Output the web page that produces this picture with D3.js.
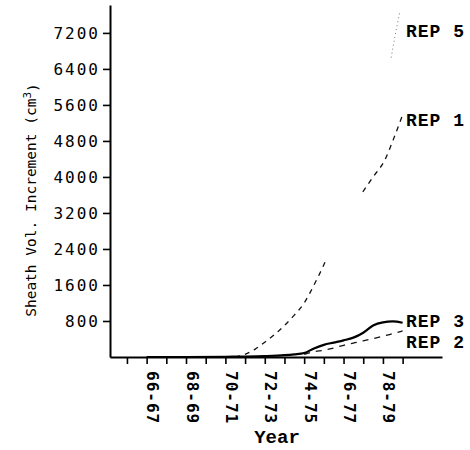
<!DOCTYPE html>
<html>
<head>
<meta charset="utf-8">
<script src="https://cdn.jsdelivr.net/npm/d3@7"></script>
<style>
  html, body { margin: 0; padding: 0; background: #fff; }
  svg { display: block; }
</style>
</head>
<body>
<div id="vis"></div>
<script>
// ── DATA ──────────────────────────────────────────────────────────────────────
const yearTicks  = [65, 66, 67, 68, 69, 70, 71, 72, 73, 74, 75, 76, 77, 78, 79];
const yearLabels = ["66-67", "68-69", "70-71", "72-73", "74-75", "76-77", "78-79"];
const volTicks   = [800, 1600, 2400, 3200, 4000, 4800, 5600, 6400, 7200];

// [year, volume] — null marks the part of the curve lost in the original
const rep1 = [[70.5, 0], [71, 60], [71.5, 170], [72, 330], [72.5, 500], [73, 700],
              [73.5, 930], [74, 1200], [74.5, 1600], [75, 2050], [75.15, 2200],
              [76, null],
              [76.98, 3670], [77.5, 4000], [78.1, 4380], [78.5, 4800], [79, 5380]];
const rep2 = [[74, 60], [74.5, 120], [75, 150], [75.5, 200], [76, 260], [76.5, 310],
              [77, 360], [77.5, 410], [78, 460], [78.5, 520], [79, 580]];
const rep3 = [[66, 0], [68, 0], [70, 5], [71, 10], [72, 20], [73, 40], [73.5, 60],
              [74, 90], [74.5, 190], [75, 270], [75.5, 320], [76, 370], [76.5, 430],
              [77, 540], [77.5, 700], [78, 770], [78.5, 790], [79, 760]];
const rep5 = [[78.42, 6650], [78.6, 7100], [78.85, 7650]];

// ── CONFIG ────────────────────────────────────────────────────────────────────
const width  = 470;
const height = 450;

const svg = d3.select("#vis").append("svg")
    .attr("width", width)
    .attr("height", height);

const x = d3.scaleLinear([64.14, 81], [110, 442]);
const y = d3.scaleLinear([0, 7820], [357, 5]);

// ── AXES ──────────────────────────────────────────────────────────────────────
const yAxis = svg.append("g")
    .attr("transform", `translate(${x.range()[0]},0)`)
    .call(d3.axisLeft(y).tickValues(volTicks).tickFormat(d3.format("d"))
      .tickSize(7).tickSizeOuter(0).tickPadding(3));
yAxis.select(".domain").attr("stroke-width", 2);
yAxis.selectAll(".tick line").attr("stroke-width", 1.6);
yAxis.selectAll("text")
    .style("font", "16px 'DejaVu Sans Mono'")
    .style("letter-spacing", "2px")
    .attr("fill", "#000");

const labelFor = d => yearLabels.find(l => +l.slice(0, 2) === d) || "";

const xAxis = svg.append("g")
    .attr("transform", `translate(0,${y(0)})`)
    .call(d3.axisBottom(x).tickValues(yearTicks).tickSize(7).tickSizeOuter(0).tickFormat(labelFor));
xAxis.select(".domain").attr("stroke-width", 2);
xAxis.selectAll(".tick line").attr("stroke-width", 1.6);
xAxis.selectAll("text")
    .attr("transform", "rotate(90)")
    .attr("text-anchor", "start")
    .attr("x", 14)
    .attr("y", 0)
    .attr("dy", "0")
    .style("font", "bold 16px 'DejaVu Sans Mono'")
    .style("letter-spacing", "1px")
    .attr("fill", "#000");

// axis titles
svg.append("text")
    .attr("transform", "translate(36,200) rotate(-90)")
    .attr("text-anchor", "middle")
    .style("font", "14.5px 'DejaVu Sans Mono'")
    .text("Sheath Vol. Increment (cm")
    .call(t => t.append("tspan").attr("dy", "-0.45em").style("font-size", "11px").text("3"))
    .call(t => t.append("tspan").attr("dy", "0.45em").text(")"));

svg.append("text")
    .attr("x", 277)
    .attr("y", 443)
    .attr("text-anchor", "middle")
    .style("font", "bold 19px 'Liberation Mono'")
    .text("Year");

// ── CURVES ────────────────────────────────────────────────────────────────────
const line = d3.line()
    .defined(d => d[1] != null)
    .x(d => x(d[0]))
    .y(d => y(d[1]))
    .curve(d3.curveMonotoneX);

const series = [
  { name: "REP 1", data: rep1, dash: "5,5", w: 1.3, color: "#111", lx: 406, ly: 126 },
  { name: "REP 2", data: rep2, dash: "6,6", w: 1.3, color: "#111", lx: 406, ly: 348 },
  { name: "REP 3", data: rep3, dash: null,  w: 2.2, color: "#000", lx: 406, ly: 327 },
  { name: "REP 5", data: rep5, dash: "1,3", w: 1,   color: "#777", lx: 406, ly: 37 }
];

svg.append("g")
    .attr("fill", "none")
  .selectAll("path")
  .data(series)
  .join("path")
    .attr("stroke", d => d.color)
    .attr("stroke-width", d => d.w)
    .attr("stroke-dasharray", d => d.dash)
    .attr("d", d => line(d.data));

svg.append("g")
    .style("font", "bold 18px 'Liberation Mono'")
    .style("letter-spacing", "1px")
  .selectAll("text")
  .data(series)
  .join("text")
    .attr("x", d => d.lx)
    .attr("y", d => d.ly)
    .text(d => d.name);
</script>
</body>
</html>
